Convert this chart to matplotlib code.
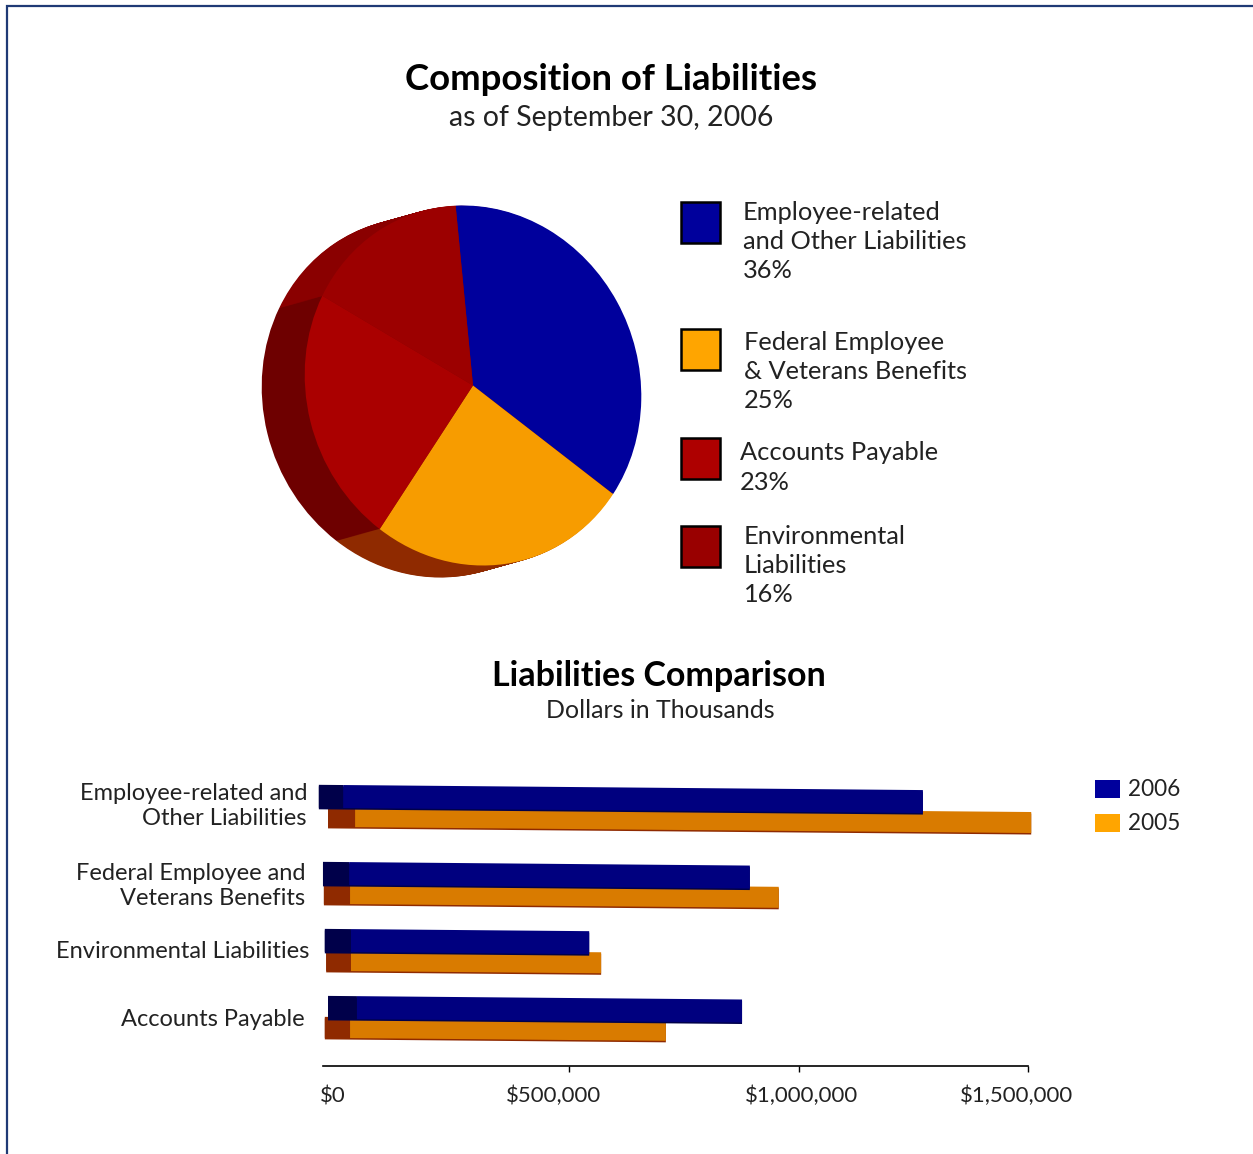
import matplotlib
matplotlib.use('Agg')
import matplotlib.pyplot as plt
from matplotlib.patches import Rectangle
from matplotlib.transforms import Affine2D, ScaledTranslation
from matplotlib.ticker import FuncFormatter

W, H = 1253, 1154
plt.rcParams['font.family'] = ['Lato', 'DejaVu Sans']

# pie data
pie_values = [36, 25, 23, 16]
pie_colors = ['#00009C', '#F79C00', '#AA0000', '#9C0000']
side_colors = ['#8A0000', '#8F2A00', '#6E0000', '#8A0000']
swatch_colors = ['#00009C', '#FFA500', '#AE0000', '#990000']
pie_legend = [['Employee-related', 'and Other Liabilities'],
              ['Federal Employee', '& Veterans Benefits'],
              ['Accounts Payable'],
              ['Environmental', 'Liabilities']]

# bar data, dollars in thousands
bar_categories = ['Employee-related and\nOther Liabilities',
                  'Federal Employee and\nVeterans Benefits',
                  'Environmental Liabilities',
                  'Accounts Payable']
values_2006 = [1271000, 894000, 544000, 877000]
values_2005 = [1507000, 957000, 570000, 711000]
face_start_2006 = [8000, 21000, 25000, 38000]
face_start_2005 = [34000, 23000, 25000, 23000]
cap_start_2006 = [-45000, -36000, -32000, -25000]
cap_start_2005 = [-25000, -34000, -29000, -32000]
xticks = [0, 500000, 1000000, 1500000]

fig = plt.figure(figsize=(W/100, H/100), dpi=100, facecolor='white')

# page layer in pixel units, y going down
page = fig.add_axes([0, 0, 1, 1])
page.set_xlim(0, W)
page.set_ylim(H, 0)
page.axis('off')
page.plot([7, 7, W], [H, 6, 6], color='#1F3A75', lw=1.6, solid_joinstyle='miter')

page.text(611, 79, 'Composition of Liabilities', ha='center', va='center',
          fontsize=26.3, fontweight='bold', color='black')
page.text(611, 118, 'as of September 30, 2006', ha='center', va='center',
          fontsize=20.5, color='#222222')
page.text(659, 676, 'Liabilities Comparison', ha='center', va='center',
          fontsize=24.5, fontweight='bold', color='black')
page.text(660, 711, 'Dollars in Thousands', ha='center', va='center',
          fontsize=18, color='#222222')

# pie legend
swatch_tops = [202, 329, 438, 526]
legend_x = [743, 744, 740, 744]
legend_y = [212, 342, 453, 536]
for i in range(4):
    page.add_patch(Rectangle((681, swatch_tops[i]), 39, 41, facecolor=swatch_colors[i],
                             edgecolor='black', lw=1.8))
    lines = pie_legend[i] + ['%d%%' % pie_values[i]]
    for j, line in enumerate(lines):
        page.text(legend_x[i], legend_y[i] + j*29.5, line, ha='left', va='center',
                  fontsize=18.3, color='#222222')

# bar legend
for y, col, lab in [(780, '#00009C', '2006'), (814, '#FFA500', '2005')]:
    page.add_patch(Rectangle((1095, y), 25, 18, facecolor=col, edgecolor='none'))
    page.text(1128, y + 10, lab, ha='left', va='center', fontsize=16.3, color='#222222')

# category labels
label_right = [307, 305, 309, 305]
label_y = [806, 886, 952, 1020]
for i, cat in enumerate(bar_categories):
    page.text(label_right[i], label_y[i], cat, ha='right', va='center', fontsize=17,
              color='#222222', linespacing=1.24)

# pie, scaled to an ellipse and slightly sheared, the side built from stacked copies
rx, ry = 168, 180
cx, cy = 473, 385.5
ax = fig.add_axes([(cx - 1.5*rx)/W, 1 - (cy + 1.5*ry)/H, 3*rx/W, 3*ry/H])
shear = -0.06
depth = 44
for k in range(depth, -1, -1):
    cols = pie_colors if k == 0 else side_colors
    wedges, _ = ax.pie(pie_values, colors=cols, startangle=92.5, counterclock=False)
    tr = Affine2D.from_values(1, 0, shear, 1, -43/rx*k/depth, -12/ry*k/depth)
    for w in wedges:
        w.set_transform(tr + ax.transData)
        w.set_linewidth(0)
        w.set_clip_on(False)
ax.set_aspect('auto')
ax.set_xlim(-1.5, 1.5)
ax.set_ylim(-1.5, 1.5)
ax.patch.set_alpha(0)

# bars: y axis runs in pixels, x scale set so $500,000 spans 229.5 px
scale = 229.5/500000
zero_px = 339.5
axis_left = 323
axis_right = 1028
top, bottom = 760, 1066
bx = fig.add_axes([axis_left/W, 1 - bottom/H, (axis_right - axis_left)/W, (bottom - top)/H])
bx.set_xlim((axis_left - zero_px)/scale, 1500000)
bx.set_ylim(bottom, top)
bx.patch.set_alpha(0)

row_y = [808, 885, 952, 1019]
bar_skew = Affine2D.from_values(1, 0.0087*scale, 0, 1, 0, 0) + bx.transData

def draw_bar(y, h, start, face_start, value, face, cap, z):
    # thin darker edge under the bar, then the end cap and the front face
    b1 = bx.barh(y + 1.5, value - start, height=h, left=start, align='edge', color=cap, zorder=z)
    b2 = bx.barh(y, face_start - start, height=h, left=start, align='edge', color=cap, zorder=z + 1)
    b3 = bx.barh(y, value - face_start, height=h, left=face_start, align='edge', color=face, zorder=z + 1)
    for b in [b1, b2, b3]:
        for r in b:
            r.set_transform(bar_skew)
            r.set_clip_on(False)
            r.set_linewidth(0)

for i in range(4):
    draw_bar(row_y[i] - 2, 21, cap_start_2005[i], face_start_2005[i], values_2005[i], '#D97B00', '#8F2A00', 2)
    draw_bar(row_y[i] - 23, 23, cap_start_2006[i], face_start_2006[i], values_2006[i], '#00007F', '#00004A', 4)

for s in ['top', 'left', 'right']:
    bx.spines[s].set_visible(False)
bx.spines['bottom'].set_linewidth(1.2)
bx.set_yticks([])
bx.set_xticks(xticks)
bx.xaxis.set_major_formatter(FuncFormatter(lambda v, p: '${:,.0f}'.format(v)))
bx.tick_params(axis='x', length=4.5, width=1, pad=10, labelsize=16, labelcolor='#222222')
bx.xaxis.get_major_ticks()[0].tick1line.set_visible(False)

# tick labels sit a little off their ticks
label_shift = [-6.5, -15, 3, -11]
for lab, dx in zip(bx.get_xticklabels(), label_shift):
    lab.set_transform(lab.get_transform() + ScaledTranslation(dx/100, 0, fig.dpi_scale_trans))

fig.savefig('out.png', dpi=100)
